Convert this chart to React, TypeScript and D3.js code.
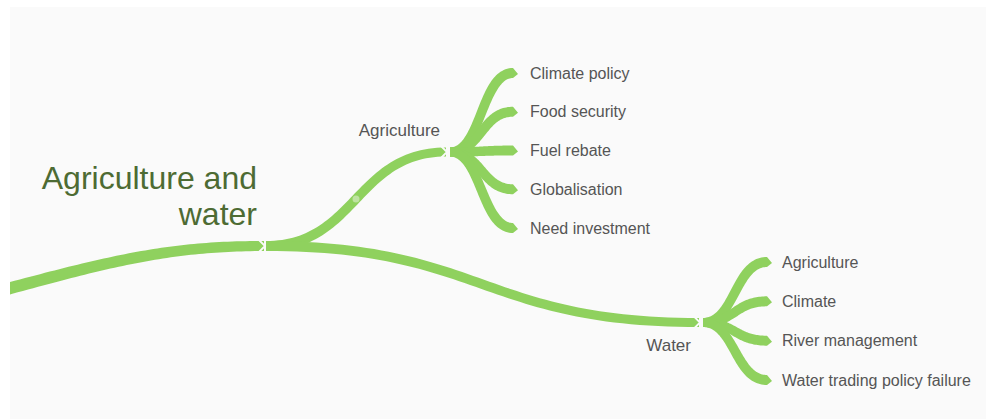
import React from "react";
import * as d3 from "d3";

// mind map content
const rootLines = ["Agriculture and", "water"];
const branchNames = ["Agriculture", "Water"];
const agricultureLeaves = ["Climate policy", "Food security", "Fuel rebate", "Globalisation", "Need investment"];
const waterLeaves = ["Agriculture", "Climate", "River management", "Water trading policy failure"];

const W = 986;
const H = 419;
const GREEN = "#8fd15e";

type Pt = [number, number];

// layout of each branch (pixels)
const layout = [
  { leaves: agricultureLeaves, nodeX: 446, leafX: 513, rows: [73, 228] as Pt, labelDx: -6, labelDy: -16, gap: 12 },
  { leaves: waterLeaves, nodeX: 699, leafX: 767, rows: [262, 380] as Pt, labelDx: -8, labelDy: 28, gap: 10 },
];
const root: Pt = [264, 246];

function bez(p: Pt[], t: number): { pt: Pt; d: Pt } {
  const u = 1 - t;
  const a = u * u * u, b = 3 * u * u * t, c = 3 * u * t * t, e = t * t * t;
  const pt: Pt = [
    a * p[0][0] + b * p[1][0] + c * p[2][0] + e * p[3][0],
    a * p[0][1] + b * p[1][1] + c * p[2][1] + e * p[3][1],
  ];
  const d: Pt = [
    3 * u * u * (p[1][0] - p[0][0]) + 6 * u * t * (p[2][0] - p[1][0]) + 3 * t * t * (p[3][0] - p[2][0]),
    3 * u * u * (p[1][1] - p[0][1]) + 6 * u * t * (p[2][1] - p[1][1]) + 3 * t * t * (p[3][1] - p[2][1]),
  ];
  return { pt, d };
}

// tapered ribbon along a cubic curve, optional pointed tip
function ribbon(p: Pt[], w0: number, w1: number, tip = 0): string {
  const n = 60;
  const up: Pt[] = [];
  const lo: Pt[] = [];
  let last = { pt: p[3], d: [1, 0] as Pt };
  for (let i = 0; i <= n; i++) {
    const t = i / n;
    const { pt, d } = bez(p, t);
    const len = Math.hypot(d[0], d[1]) || 1;
    const nx = -d[1] / len, ny = d[0] / len;
    const hw = (w0 + (w1 - w0) * t) / 2;
    up.push([pt[0] + nx * hw, pt[1] + ny * hw]);
    lo.push([pt[0] - nx * hw, pt[1] - ny * hw]);
    last = { pt, d: [d[0] / len, d[1] / len] };
  }
  const pts: Pt[] = [...up];
  if (tip > 0) pts.push([last.pt[0] + last.d[0] * tip, last.pt[1] + last.d[1] * tip + 1]);
  pts.push(...lo.reverse());
  return (d3.line()(pts) || "") + "Z";
}

function hlink(a: Pt, b: Pt): Pt[] {
  const mx = (a[0] + b[0]) / 2;
  return [a, [mx, a[1]], [mx, b[1]], b];
}

function chevron(x: number, y: number, h: number): string {
  return d3.line()([[x - 5, y - h], [x + 1, y], [x - 5, y + h]]) || "";
}

export default function App() {
  const branches = layout.map((b, i) => {
    const y = d3.scalePoint<string>().domain(b.leaves).range(b.rows);
    const nodeY = (d3.mean(b.leaves, (l) => y(l) as number) as number) + 1.5;
    return { ...b, name: branchNames[i], y, nodeY };
  });

  const trunk: Pt[] = [[0, 291], [110, 261], [170, 246], root];

  return (
    <svg width={W} height={H} style={{ position: "absolute", left: 0, top: 0 }}
      fontFamily="'Liberation Sans', Arial, sans-serif">
      <defs>
        <clipPath id="panel">
          <rect x={10} y={7} width={W - 10} height={H - 7} />
        </clipPath>
      </defs>
      <rect x={0} y={0} width={W} height={H} fill="#fff" />
      <rect x={10} y={7} width={W - 10} height={H - 7} fill="#fafafa" />
      <g clipPath="url(#panel)">
        <path d={ribbon(trunk, 12, 10)} fill={GREEN} />
        {branches.map((b) => {
          const start: Pt = [root[0] + 2, root[1]];
          const node: Pt = [b.nodeX, b.nodeY];
          const link = hlink(start, node);
          const mid = bez(link, 0.5).pt;
          return (
            <g key={b.name}>
              <path d={ribbon(link, 10, 9)} fill={GREEN} />
              {b.leaves.map((l) => {
                const end: Pt = [b.leafX, b.y(l) as number];
                return <path key={l} d={ribbon(hlink([b.nodeX + 4, b.nodeY], end), 9, 10, 5)} fill={GREEN} />;
              })}
              {b.name === "Agriculture" && <circle cx={mid[0]} cy={mid[1]} r={3.5} fill="#bfe3a2" />}
              <path d={chevron(b.nodeX, b.nodeY, 6)} fill="none" stroke="#fafafa" strokeWidth={1.8} />
              <text x={b.nodeX + b.labelDx} y={b.nodeY + b.labelDy} textAnchor="end" fontSize={17} fill="#555">
                {b.name}
              </text>
              {b.leaves.map((l) => (
                <text key={l} x={b.leafX + 5 + b.gap} y={b.y(l) as number} dy="0.35em" fontSize={16} fill="#555">
                  {l}
                </text>
              ))}
            </g>
          );
        })}
        <path d={chevron(root[0], root[1], 6)} fill="none" stroke="#fafafa" strokeWidth={1.8} />
        <text x={257} y={189} textAnchor="end" fontSize={32} fill="#4d6b33">
          {rootLines[0]}
        </text>
        <text x={257} y={225} textAnchor="end" fontSize={32} fill="#4d6b33">
          {rootLines[1]}
        </text>
      </g>
    </svg>
  );
}
